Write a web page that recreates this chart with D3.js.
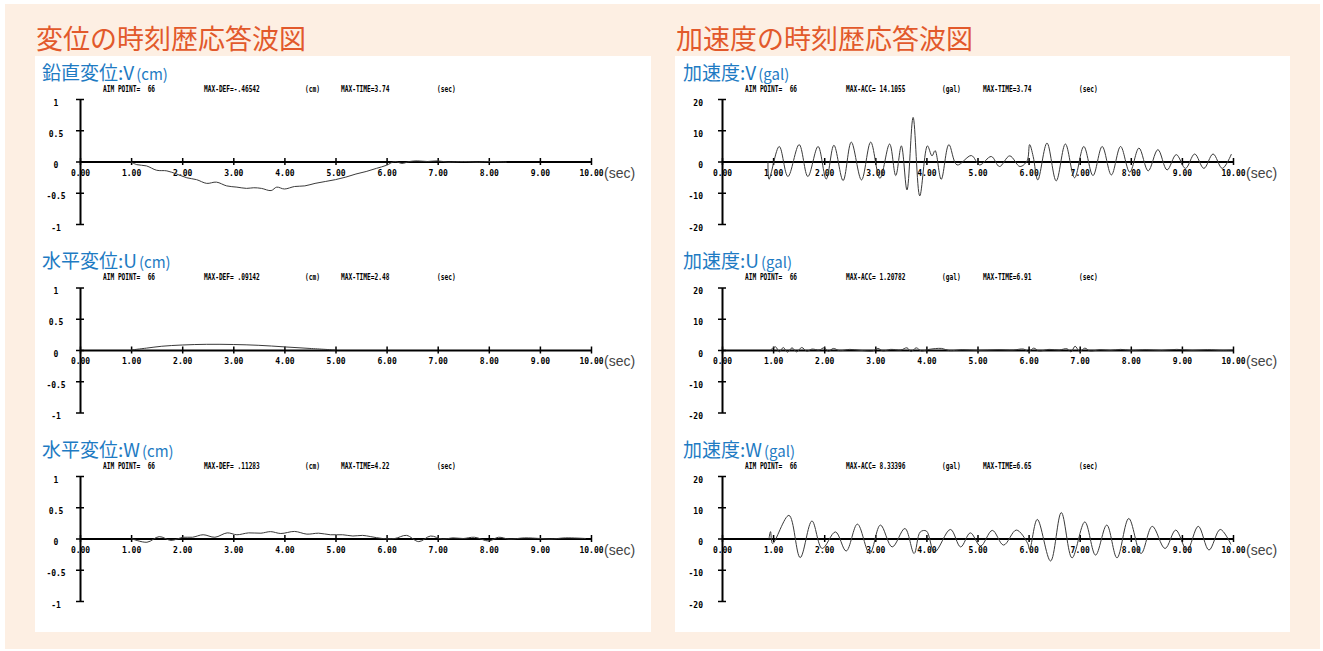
<!DOCTYPE html>
<html>
<head>
<meta charset="utf-8">
<script src="https://cdn.jsdelivr.net/npm/d3@7/dist/d3.min.js"></script>
<style>
  body { margin: 0; background: #fff; }
  svg { display: block; }
  .hdr { font-family: "DejaVu Sans Mono", monospace; font-weight: bold; font-size: 8.5px; fill: #000; white-space: pre; }
  .axis .tick text { font-family: "DejaVu Sans Mono", monospace; font-weight: bold; font-size: 8px; fill: #000; }
  .axis path.domain { stroke: #000; stroke-width: 2; }
  .axis .tick line { stroke: #000; stroke-width: 1.5; }
  .wave { fill: none; stroke: #3a3a3a; stroke-width: 1; }
</style>
</head>
<body>
<svg id="chart"></svg>
<script>
// ---- data ----
const timeTicks = [0, 1, 2, 3, 4, 5, 6, 7, 8, 9, 10];
const dispTicks = [1, 0.5, 0, -0.5, -1];
const accTicks = [20, 10, 0, -10, -20];

const dispTitles = ["鉛直変位", "水平変位", "水平変位"];
const accTitles = ["加速度", "加速度", "加速度"];
const axisNames = ["V", "U", "W"];
const dispMaxLabels = ["MAX-DEF=-.46542", "MAX-DEF= .09142", "MAX-DEF= .11283"];
const dispMaxTimes = ["MAX-TIME=3.74", "MAX-TIME=2.48", "MAX-TIME=4.22"];
const accMaxLabels = ["MAX-ACC= 14.1055", "MAX-ACC= 1.20782", "MAX-ACC= 8.33396"];
const accMaxTimes = ["MAX-TIME=3.74", "MAX-TIME=6.91", "MAX-TIME=6.65"];

// displacement V (cm)
const dispVTime = [0.98, 1.11, 1.30, 1.50, 1.70, 1.89, 2.09, 2.28, 2.48, 2.67, 2.87, 3.07, 3.26, 3.40, 3.55, 3.74, 3.85, 4.00, 4.20, 4.40, 4.60, 4.80, 5.00, 5.20, 5.40, 5.60, 5.80, 6.00, 6.16, 6.30, 6.45, 6.60, 6.80, 7.00, 7.20, 7.50, 7.80, 8.00, 8.35];
const dispVVal = [0, -0.05, -0.07, -0.14, -0.15, -0.20, -0.26, -0.29, -0.35, -0.33, -0.39, -0.41, -0.43, -0.42, -0.43, -0.465, -0.41, -0.44, -0.40, -0.39, -0.35, -0.32, -0.29, -0.25, -0.20, -0.16, -0.11, -0.06, 0, -0.03, 0.0, 0.01, 0.0, 0.01, -0.01, 0.0, -0.01, 0.0, -0.01];
// displacement U (cm)
const dispUTime = [1.0, 1.3, 1.6, 2.0, 2.48, 3.0, 3.5, 4.0, 4.5, 5.0];
const dispUVal = [0, 0.03, 0.06, 0.08, 0.091, 0.088, 0.075, 0.05, 0.025, 0.0];
// displacement W (cm)
const dispWTime = [1.0, 1.31, 1.55, 1.78, 2.02, 2.2, 2.41, 2.64, 2.88, 3.07, 3.3, 3.54, 3.73, 3.93, 4.2, 4.44, 4.67, 4.9, 5.14, 5.34, 5.53, 5.69, 5.92, 6.16, 6.39, 6.63, 6.86, 7.09, 7.3, 7.5, 7.72, 8.0, 8.19, 8.4, 8.7, 9.0, 9.2, 9.5, 9.9];
const dispWVal = [0, -0.06, 0.03, -0.03, 0.02, 0.02, 0.06, 0.02, 0.09, 0.06, 0.09, 0.085, 0.11, 0.08, 0.113, 0.07, 0.085, 0.06, 0.06, 0.04, 0.05, 0.03, 0, 0, 0.05, -0.05, 0.04, -0.01, 0.01, 0, 0.02, -0.04, 0.02, -0.01, 0.01, 0, -0.01, 0.01, 0];

// acceleration V (gal)
const accVTime = [0.90, 0.92, 1.12, 1.29, 1.51, 1.68, 1.88, 2.04, 2.19, 2.37, 2.53, 2.73, 2.91, 3.09, 3.28, 3.40, 3.51, 3.62, 3.74, 3.87, 4.02, 4.11, 4.17, 4.29, 4.44, 4.60, 4.88, 5.04, 5.27, 5.43, 5.63, 5.83, 5.97, 6.02, 6.09, 6.18, 6.36, 6.54, 6.72, 6.90, 7.08, 7.26, 7.44, 7.62, 7.80, 7.98, 8.16, 8.34, 8.53, 8.71, 8.89, 9.07, 9.25, 9.43, 9.61, 9.79, 9.97];
const accVVal = [0, -5.7, 4.8, -4.8, 5.4, -4.8, 4.8, -5.6, 5.2, -6.1, 6.2, -5.9, 6.2, -5.4, 5.6, -4.5, 5.0, -9.1, 14.1, -11.0, 5.0, 1.8, 3.5, -5.7, 5.4, -1.1, 1.9, -1.1, 1.6, -1.6, 1.8, -1.6, 0.2, 5.4, 1.6, -5.9, 5.9, -6.2, 5.6, -5.2, 4.8, -4.5, 4.8, -4.3, 4.8, -3.4, 4.3, -3.0, 3.8, -2.7, 2.2, -2.2, 2.4, -2.2, 2.4, -2.2, 2.4];
// acceleration U (gal)
const accUTime = [0.95, 1.05, 1.12, 1.2, 1.28, 1.37, 1.46, 1.56, 1.66, 1.76, 1.9, 2.0, 2.08, 2.18, 2.3, 2.5, 2.7, 2.95, 3.05, 3.15, 3.3, 3.5, 3.62, 3.7, 3.8, 3.9, 4.05, 4.3, 4.45, 4.7, 5.0, 5.4, 5.7, 5.9, 6.0, 6.1, 6.2, 6.4, 6.6, 6.75, 6.83, 6.91, 7.0, 7.1, 7.2, 7.4, 7.6, 7.8, 8.0, 8.3, 8.6, 8.9, 9.2, 9.5, 9.8, 10.0];
const accUVal = [0, 1.0, -0.6, 0.8, -0.7, 0.7, -0.6, 0.8, -0.4, 0.3, 0, 0.7, -0.4, 0.5, -0.2, 0.2, -0.1, -0.3, 0.5, -0.3, 0.2, 0, 0.7, -0.5, 0.7, -0.3, 0.2, 0.5, -0.2, 0.1, -0.1, 0.1, 0, 0.3, -0.5, 0.6, -0.3, 0.2, 0, 0.4, -0.6, 1.2, -0.5, 0.6, -0.3, 0.1, -0.1, 0.2, -0.1, 0.1, -0.1, 0.2, -0.1, 0.1, -0.1, 0];
// acceleration W (gal)
const accWTime = [0.92, 0.95, 0.99, 1.31, 1.53, 1.76, 1.96, 2.22, 2.43, 2.65, 2.89, 3.10, 3.33, 3.58, 3.76, 3.88, 4.00, 4.16, 4.47, 4.67, 4.86, 5.06, 5.29, 5.51, 5.76, 5.98, 6.02, 6.17, 6.43, 6.64, 6.85, 7.10, 7.31, 7.53, 7.73, 7.96, 8.20, 8.42, 8.67, 8.88, 9.10, 9.32, 9.53, 9.75, 9.96];
const accWVal = [0, 2.2, -1.6, 7.4, -6.1, 5.6, -3.2, 2.1, -4.0, 4.6, -4.8, 4.3, -2.7, 3.2, -4.8, 2.1, 2.4, -4.3, 2.9, -2.7, 1.8, -2.4, 2.6, -2.1, 2.7, -1.5, -3.5, 6.1, -7.2, 8.3, -6.2, 5.3, -5.3, 4.3, -6.2, 6.4, -4.8, 3.9, -3.2, 2.7, -3.7, 3.9, -3.7, 2.9, -1.9];

const dispSeries = [[dispVTime, dispVVal], [dispUTime, dispUVal], [dispWTime, dispWVal]];
const accSeries = [[accVTime, accVVal], [accUTime, accUVal], [accWTime, accWVal]];

// ---- layout ----
const W = 1323, H = 651;
const svg = d3.select("#chart").attr("width", W).attr("height", H);

svg.append("rect").attr("x", 5).attr("y", 4).attr("width", 1315).attr("height", 645).attr("fill", "#fdefe3");
svg.append("rect").attr("x", 35).attr("y", 56).attr("width", 616).attr("height", 576).attr("fill", "#fff");
svg.append("rect").attr("x", 675).attr("y", 56).attr("width", 615).attr("height", 576).attr("fill", "#fff");

const titleStyle = (sel) => sel.attr("font-family", "'Noto Sans CJK JP'").attr("font-size", 27)
  .attr("font-weight", 400).attr("fill", "#e2592b");
svg.append("text").attr("x", 36).attr("y", 49).text("変位の時刻歴応答波図").call(titleStyle);
svg.append("text").attr("x", 676).attr("y", 49).text("加速度の時刻歴応答波図").call(titleStyle);

const rowZero = [161.5, 350, 538.5];
const plotW = 511, halfH = 62.5;

function drawChart(opts) {
  const g = svg.append("g").attr("transform", `translate(${opts.x0},${opts.zero})`);
  const x = d3.scaleLinear().domain([0, 10]).range([0, plotW]);
  const y = d3.scaleLinear().domain([-opts.ymax, opts.ymax]).range([halfH, -halfH]);

  // subtitle
  const st = svg.append("text").attr("x", opts.subX).attr("y", opts.zero - 82)
    .attr("font-family", "'Noto Sans CJK JP'").attr("fill", "#1e7bc3");
  st.append("tspan").attr("font-size", 19).text(opts.title + ":" + opts.axisName);
  st.append("tspan").attr("font-size", 15).attr("dx", 2).text(opts.unit);

  // header line
  const hy = opts.zero - 70;
  const parts = [
    [23, "AIM POINT=  66"], [124, opts.maxLabel], [opts.unitOff, opts.hdrUnit], [261, opts.maxTime], [357, "(sec)"]
  ];
  parts.forEach(([dx, s]) => {
    svg.append("text").attr("class", "hdr").attr("x", opts.x0 + dx).attr("y", hy)
      .attr("textLength", s.length * 3.72).attr("lengthAdjust", "spacingAndGlyphs").text(s);
  });

  // y axis
  const ya = g.append("g").attr("class", "axis")
    .call(d3.axisLeft(y).tickValues(opts.ticks).tickFormat(d => String(d)).tickSizeOuter(0));
  ya.selectAll(".tick line").attr("x1", -4).attr("x2", 4);
  ya.selectAll(".tick text").attr("x", opts.ylabX).attr("dy", "0.32em")
    .attr("y", 3.5).attr("text-anchor", opts.ylabAnchor);

  // x axis at zero
  const xa = g.append("g").attr("class", "axis")
    .call(d3.axisBottom(x).tickValues(timeTicks).tickFormat(d3.format(".2f")).tickSizeOuter(0));
  xa.selectAll(".tick line").attr("y1", -3.5).attr("y2", 3.5);
  xa.selectAll(".tick text").attr("y", 8.5);

  // waveform
  const pts = opts.t.map((t, i) => [t, opts.v[i]]);
  g.append("path").attr("class", "wave")
    .attr("d", d3.line().x(d => x(d[0])).y(d => y(d[1])).curve(d3.curveCatmullRom)(pts));

  // (sec) unit
  g.append("text").attr("x", plotW + 13).attr("y", 16).text("(sec)")
    .attr("font-family", "'Liberation Sans', Arial").attr("font-size", 14).attr("fill", "#444")
    .attr("stroke", "#fff").attr("stroke-width", 2).attr("paint-order", "stroke");
}

for (let r = 0; r < 3; r++) {
  drawChart({
    x0: 80, zero: rowZero[r], ymax: 1, ticks: dispTicks, subX: 42,
    title: dispTitles[r], axisName: axisNames[r], unit: "(cm)",
    maxLabel: dispMaxLabels[r], hdrUnit: "(cm)", unitOff: 225, maxTime: dispMaxTimes[r],
    ylabX: -24, ylabAnchor: "middle",
    t: dispSeries[r][0], v: dispSeries[r][1]
  });
  drawChart({
    x0: 722, zero: rowZero[r], ymax: 20, ticks: accTicks, subX: 683,
    title: accTitles[r], axisName: axisNames[r], unit: "(gal)",
    maxLabel: accMaxLabels[r], hdrUnit: "(gal)", unitOff: 220, maxTime: accMaxTimes[r],
    ylabX: -19, ylabAnchor: "end",
    t: accSeries[r][0], v: accSeries[r][1]
  });
}
</script>
</body>
</html>
